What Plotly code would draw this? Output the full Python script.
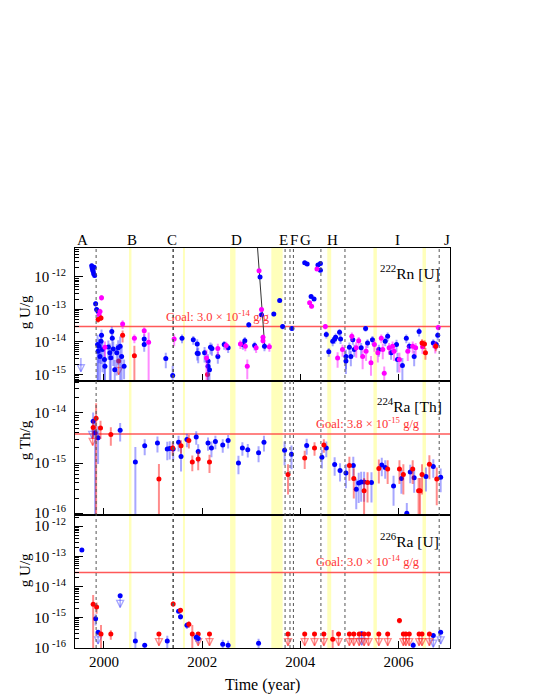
import plotly.graph_objects as go
from plotly.subplots import make_subplots

# ---- 222Rn [U] (top panel) ----
rn_blue_x = [1999.75, 1999.76, 1999.77, 1999.78, 1999.79, 1999.80, 1999.81, 1999.83, 1999.85, 1999.88,
             1999.87, 1999.88, 1999.90, 1999.92, 1999.94, 1999.95, 1999.97, 2000.01, 2000.02, 2000.09,
             2000.12, 2000.14, 2000.16, 2000.17, 2000.19, 2000.22, 2000.26, 2000.29, 2000.33, 2000.36,
             2000.41, 2000.82, 2000.82, 2001.26, 2001.40, 2001.59, 2001.82, 2001.90, 2001.90, 2001.92,
             2002.05, 2002.12, 2002.12, 2002.15, 2002.17, 2002.20, 2002.32, 2002.45, 2002.53, 2002.83,
             2002.87, 2002.95, 2003.07, 2003.18, 2003.21, 2003.27, 2003.46, 2003.58, 2003.64, 2003.83,
             2004.09, 2004.14, 2004.36, 2004.22, 2004.28, 2004.41, 2004.41, 2004.53, 2004.58, 2004.66,
             2004.70, 2004.72, 2004.80, 2004.82, 2004.93, 2004.93, 2005.00, 2005.03, 2005.07, 2005.10,
             2005.24, 2005.33, 2005.37, 2005.47, 2005.60, 2005.73, 2005.78, 2005.85, 2005.96, 2005.98,
             2006.08, 2006.16, 2006.22, 2006.32, 2006.42, 2006.71, 2006.77, 2006.80]
rn_blue_y = [2.2e-12, 1.9e-12, 1.65e-12, 1.5e-12, 1.25e-12, 2.0e-12, 1.1e-12, 1.5e-13, 1.0e-13, 8.7e-14,
             8.3e-15, 5.2e-15, 7.4e-15, 3.6e-15, 1.05e-14, 1.6e-14, 5.9e-15, 2.9e-15, 1.8e-15, 7.0e-15,
             4.7e-15, 3.3e-15, 2.1e-14, 1.3e-14, 6.1e-15, 1.4e-15, 4.7e-15, 6.6e-15, 7.4e-15, 3.6e-15,
             1.8e-15, 1.23e-14, 8.3e-15, 3.1e-15, 9.3e-16, 1.3e-14, 1.17e-14, 4.5e-15, 8.7e-15, 4.4e-15,
             4.7e-15, 2.6e-15, 1.8e-15, 1.4e-15, 6.9e-15, 6.3e-15, 3.6e-15, 8.3e-15, 6.6e-15, 8.3e-15,
             1.1e-14, 3.4e-14, 7.8e-15, 1.0e-12, 6.9e-14, 7.4e-15, 7.2e-14, 1.9e-13, 3.0e-14, 2.6e-14,
             2.75e-12, 2.5e-12, 2.35e-12, 2.5e-13, 2.1e-13, 2.6e-12, 1.6e-12, 1.7e-14, 5.0e-15, 1.05e-14,
             1.23e-14, 1.4e-14, 2.0e-14, 1.23e-14, 3.6e-15, 2.6e-15, 6.9e-15, 3.6e-15, 1.17e-14, 5.9e-15,
             6.6e-15, 2.6e-14, 9.3e-15, 1.17e-14, 5.9e-15, 1.05e-14, 1.5e-14, 4.7e-15, 8.3e-15, 2.9e-15,
             1.9e-15, 1.3e-14, 7.4e-15, 3.6e-15, 2.1e-14, 9.3e-15, 8.3e-15, 1.6e-14]
rn_blue_err = [0.15, 0.15, 0.15, 0.15, 0.15, 0.15, 0.15, 0.2, 0.2, 0.2,
               1.0, 0.9, 0.7, 1.0, 0.8, 0.5, 0.8, 1.0, 1.0, 0.6,
               0.9, 1.0, 0.4, 0.5, 0.7, 1.0, 0.8, 0.7, 1.0, 1.0,
               0.6, 0.4, 0.4, 0.5, 1.0, 0.3, 0.3, 0.4, 0.4, 0.5,
               0.5, 0.6, 0.7, 1.0, 0.4, 0.4, 0.4, 0.3, 0.3, 0.3,
               0.3, 0.2, 0.3, 0.1, 0.15, 0.3, 0.15, 0.15, 0.2, 0.15,
               0.1, 0.1, 0.1, 0.1, 0.1, 0.1, 0.1, 0.25, 0.3, 0.3,
               0.3, 0.3, 0.25, 0.3, 0.6, 0.6, 0.4, 0.5, 0.3, 0.4,
               0.4, 0.2, 0.3, 0.3, 0.4, 0.3, 0.3, 0.4, 0.4, 0.6,
               0.7, 0.3, 0.3, 0.5, 0.3, 0.3, 0.3, 0.3]

rn_mag_x = [1999.95, 1999.92, 1999.90, 2000.02, 2000.38, 2000.62, 2000.82, 2000.91, 2001.43, 2002.09,
            2002.32, 2002.49, 2002.78, 2002.88, 2002.92, 2003.10, 2003.16, 2003.21, 2003.24, 2003.24,
            2003.37, 2004.19, 2004.23, 2004.34, 2004.51, 2004.76, 2004.86, 2005.05, 2005.14, 2005.19,
            2005.27, 2005.34, 2005.44, 2005.51, 2005.58, 2005.65, 2005.68, 2005.71, 2005.81, 2005.88,
            2005.91, 2006.02, 2006.19, 2006.29, 2006.35, 2006.49, 2006.75, 2006.81]
rn_mag_y = [2.3e-13, 8.7e-14, 6.9e-14, 6.9e-15, 3.6e-14, 1.3e-14, 2.2e-14, 9.8e-15, 1.23e-14, 3.2e-15,
            6.3e-15, 7.8e-15, 8.7e-15, 7.4e-15, 1.8e-15, 6.6e-15, 1.55e-12, 1.0e-13, 1.4e-14, 1.1e-14,
            7.1e-15, 1.6e-13, 1.25e-13, 1.75e-12, 3.0e-14, 3.2e-15, 5.9e-15, 1.5e-14, 6.6e-15, 1.1e-14,
            3.6e-15, 5.2e-15, 2.3e-15, 8.3e-15, 4.7e-15, 1.3e-14, 5.9e-15, 1.1e-15, 6.6e-15, 7.4e-15,
            5.2e-15, 2.9e-15, 5.2e-15, 7.4e-15, 6.6e-15, 7.1e-15, 7.4e-15, 2.8e-14]
rn_mag_err = [0.2, 0.2, 0.2, 0.5, 0.3, 0.3, 0.3, 1.0, 0.4, 0.8,
              0.4, 0.3, 0.3, 0.3, 0.6, 0.3, 0.1, 0.15, 0.2, 0.2,
              0.3, 0.15, 0.15, 0.1, 0.2, 0.5, 0.4, 0.3, 0.5, 0.3,
              0.6, 0.5, 0.6, 0.4, 0.5, 0.3, 0.5, 0.6, 0.4, 0.4,
              0.5, 0.6, 0.5, 0.4, 0.4, 0.4, 0.4, 0.2]

rn_red_x = [1999.88, 1999.94, 2000.38, 2000.62, 2006.48, 2006.53, 2006.55, 2006.76]
rn_red_y = [4.9e-14, 5.5e-14, 1.6e-14, 3.8e-15, 9.3e-15, 8.7e-15, 4.7e-15, 7.4e-15]
rn_red_err = [0.2, 0.2, 0.4, 1.0, 0.3, 0.3, 0.4, 0.3]

rn_blue_lim_x = [1999.53]
rn_blue_lim_y = [3.2e-15]
rn_red_lim_x = [2000.30, 2002.11]
rn_red_lim_y = [2.6e-15, 1.0e-15]

rn_decay_x = [2003.12, 2003.28]
rn_decay_y = [1.2e-11, 6.0e-15]

# ---- 224Ra [Th] (middle panel) ----
th_blue_x = [1999.78, 1999.82, 1999.88, 2000.33, 2000.64, 2000.83, 2001.09, 2001.29, 2001.34, 2001.41,
             2001.52, 2001.57, 2001.69, 2001.88, 2001.92, 2002.12, 2002.19, 2002.27, 2002.42, 2002.53,
             2002.74, 2002.82, 2002.93, 2003.15, 2003.26, 2003.68, 2003.82, 2004.13, 2004.44, 2004.53,
             2004.70, 2004.81, 2004.93, 2005.08, 2005.14, 2005.19, 2005.24, 2005.30, 2005.45, 2005.66,
             2005.73, 2005.90, 2006.06, 2006.17, 2006.24, 2006.32, 2006.56, 2006.71, 2006.86]
th_blue_y = [6.8e-15, 4.0e-15, 3.2e-15, 4.5e-15, 1.05e-15, 2.2e-15, 2.5e-15, 1.9e-15, 1.95e-15, 1.9e-15,
             2.6e-15, 1.35e-15, 2.95e-15, 3.3e-15, 1.7e-15, 2.5e-15, 2.0e-15, 2.7e-15, 2.3e-15, 2.8e-15,
             1.0e-15, 2.0e-15, 1.85e-15, 1.6e-15, 2.6e-15, 1.8e-15, 1.5e-15, 2.25e-15, 1.3e-15, 2.0e-15,
             9.3e-16, 7.1e-16, 6.3e-16, 8.9e-16, 3.0e-16, 4.0e-16, 4.2e-16, 4.2e-16, 4.1e-16, 9.1e-16,
             8.1e-16, 3.5e-16, 4.9e-16, 1.0e-16, 6.6e-16, 5.1e-16, 5.4e-16, 8.5e-16, 5.2e-16]
th_blue_err = [0.5, 1.0, 0.7, 0.4, 1.0, 0.35, 0.35, 0.4, 0.4, 0.4,
               0.35, 0.5, 0.3, 0.3, 0.4, 0.3, 0.35, 0.3, 0.3, 0.3,
               0.4, 0.3, 0.3, 0.35, 0.35, 0.5, 0.5, 0.35, 0.4, 0.35,
               0.4, 0.4, 0.5, 0.5, 0.6, 0.6, 0.6, 0.6, 0.6, 0.4,
               0.4, 0.6, 0.5, 0.6, 0.4, 0.5, 0.5, 0.4, 0.5]

th_red_x = [1999.78, 1999.84, 1999.93, 2000.14, 2001.12, 2001.40, 2001.57, 2001.73, 2001.80, 2001.92,
            2002.15, 2003.75, 2004.09, 2004.29, 2004.48, 2005.00, 2005.09, 2005.30, 2005.37, 2005.60,
            2005.78, 2006.02, 2006.10, 2006.29, 2006.41, 2006.44, 2006.48, 2006.63, 2006.78]
th_red_y = [5.1e-15, 7.8e-15, 5.0e-15, 3.7e-15, 4.8e-16, 2.0e-15, 2.2e-15, 2.8e-15, 1.05e-15, 1.2e-15,
            1.05e-15, 5.9e-16, 1.26e-15, 2.0e-15, 2.3e-15, 8.9e-16, 4.9e-16, 2.8e-16, 4.1e-16, 7.8e-16,
            7.6e-16, 7.6e-16, 5.9e-16, 7.6e-16, 2.8e-16, 2.8e-16, 5.9e-16, 9.5e-16, 4.8e-16]
th_red_err = [0.4, 1.0, 0.4, 0.4, 1.0, 0.3, 0.3, 0.3, 0.35, 0.4,
              0.4, 0.6, 0.4, 0.3, 0.3, 0.5, 0.6, 0.8, 0.6, 0.5,
              0.5, 0.5, 0.6, 0.5, 0.8, 0.8, 0.6, 0.5, 0.7]

th_blue_lim_x = [1999.76]
th_blue_lim_y = [5.5e-15]
th_red_lim_x = [1999.77]
th_red_lim_y = [4.0e-15]

# ---- 226Ra [U] (bottom panel) ----
ra_blue_x = [1999.55, 1999.83, 2000.64, 2001.29, 2001.52, 2001.56, 2001.69, 2001.88, 2001.92, 2002.42,
             2002.53, 2003.15, 2006.30]
ra_blue_y = [1.65e-13, 9.0e-16, 1.66e-16, 1.66e-16, 1.6e-15, 1.05e-15, 5.5e-16, 2.2e-16, 2.0e-16, 1.3e-16,
             1.2e-16, 1.4e-16, 1.2e-16]
ra_blue_err = [0.15, 0.4, 1.0, 0.5, 0.15, 0.2, 0.25, 0.3, 0.3, 0.4,
               0.4, 0.4, 0.3]

ra_red_x = [1999.78, 1999.85, 1999.94, 2000.14, 2001.41, 2001.56, 2001.73, 2001.80, 2004.66, 2006.02]
ra_red_y = [2.7e-15, 2.2e-15, 2.8e-16, 2.8e-16, 2.75e-15, 1.7e-15, 5.9e-16, 2.8e-16, 1.9e-16, 7.8e-16]
ra_red_err = [1.0, 0.4, 1.0, 0.35, 0.2, 0.2, 0.25, 1.0, 1.0, 0.2]

ra_blue_lim_x = [1999.88, 2000.33, 2000.83, 2005.25, 2006.71, 2006.86]
ra_blue_lim_y = [3.2e-16, 5.1e-15, 1.2e-16, 2.9e-16, 2.5e-16, 3.2e-16]
ra_red_lim_x = [2001.12, 2001.92, 2002.15, 2003.75, 2004.09, 2004.29, 2004.48, 2004.78, 2005.00, 2005.09,
                2005.20, 2005.30, 2005.39, 2005.60, 2005.78, 2006.10, 2006.15, 2006.22, 2006.42, 2006.48,
                2006.63]
ra_red_lim_y = [2.8e-16] * len(ra_red_lim_x)

# ---- goals, events ----
goals = [3.0e-14, 3.8e-15, 3.0e-14]
goal_text = ["Goal: 3.0 \u00d7 10<sup>-14</sup> g/g",
             "Goal: 3.8 \u00d7 10<sup>-15</sup> g/g",
             "Goal: 3.0 \u00d7 10<sup>-14</sup> g/g"]
panel_names = ["<sup>222</sup>Rn [U]", "<sup>224</sup>Ra [Th]", "<sup>226</sup>Ra [U]"]
y_titles = ["g U/g", "g Th/g", "g U/g"]

event_lines = [1999.84, 2001.41, 2003.69, 2003.79, 2003.86, 2004.42, 2004.91, 2006.83]
yellow_start = [2000.51, 2001.61, 2002.57, 2003.41, 2004.55, 2005.49, 2006.49]
yellow_end = [2000.56, 2001.65, 2002.68, 2003.64, 2004.63, 2005.56, 2006.56]
event_labels = ["A", "B", "C", "D", "E", "F", "G", "H", "I", "J"]
event_label_x = [1999.57, 2000.57, 2001.38, 2002.70, 2003.66, 2003.88, 2004.11, 2004.66, 2005.98, 2006.98]

x_range = [1999.41, 2007.05]
y_ranges = [[-15.21, -11.11], [-16.03, -13.37], [-16.01, -11.62]]
arrow_dec = [0.42, 0.25, 0.38]

FONT = "Liberation Serif, Times New Roman, serif"
BLUE, BLUE_E = "#0000ff", "rgba(60,60,255,0.45)"
MAG, MAG_E = "#ff00ff", "rgba(255,0,255,0.45)"
RED, RED_E = "#ff0000", "rgba(255,0,0,0.45)"

fig = make_subplots(rows=3, cols=1, shared_xaxes=True, vertical_spacing=0)


def add_points(row, xs, ys, rel, color, ecolor):
    fig.add_trace(go.Scatter(
        x=xs, y=ys, mode="markers",
        marker=dict(color=color, size=5),
        error_y=dict(type="data", array=[v * r for v, r in zip(ys, rel)],
                     color=ecolor, thickness=2, width=0),
        showlegend=False, hoverinfo="skip"), row=row, col=1)


def add_limits(row, xs, ys, color, ecolor, dot=True):
    d = arrow_dec[row - 1]
    heads = [v * 10 ** (-d) for v in ys]
    fig.add_trace(go.Scatter(
        x=xs, y=ys, mode="markers",
        marker=dict(color=color, size=5, opacity=1 if dot else 0),
        error_y=dict(type="data", symmetric=False, array=[0] * len(ys),
                     arrayminus=[v - h for v, h in zip(ys, heads)],
                     color=ecolor, thickness=1.5, width=0),
        showlegend=False, hoverinfo="skip"), row=row, col=1)
    fig.add_trace(go.Scatter(
        x=xs, y=heads, mode="markers",
        marker=dict(symbol="arrow-down-open", size=7, color=ecolor,
                    line=dict(color=ecolor, width=1.3)),
        showlegend=False, hoverinfo="skip"), row=row, col=1)


# goal lines
for i, g in enumerate(goals):
    fig.add_trace(go.Scatter(x=x_range, y=[g, g], mode="lines",
                             line=dict(color="rgba(255,60,60,0.85)", width=1.5),
                             showlegend=False, hoverinfo="skip"), row=i + 1, col=1)

# top panel
fig.add_trace(go.Scatter(x=rn_decay_x, y=rn_decay_y, mode="lines",
                         line=dict(color="#333333", width=1), showlegend=False,
                         hoverinfo="skip"), row=1, col=1)
add_limits(1, rn_blue_lim_x, rn_blue_lim_y, BLUE, BLUE_E, dot=False)
add_limits(1, rn_red_lim_x, rn_red_lim_y, RED, RED_E)
add_points(1, rn_blue_x, rn_blue_y, rn_blue_err, BLUE, BLUE_E)
add_points(1, rn_mag_x, rn_mag_y, rn_mag_err, MAG, MAG_E)
add_points(1, rn_red_x, rn_red_y, rn_red_err, RED, RED_E)

# middle panel
add_limits(2, th_blue_lim_x, th_blue_lim_y, BLUE, BLUE_E, dot=False)
add_limits(2, th_red_lim_x, th_red_lim_y, RED, RED_E, dot=False)
add_points(2, th_blue_x, th_blue_y, th_blue_err, BLUE, BLUE_E)
add_points(2, th_red_x, th_red_y, th_red_err, RED, RED_E)

# bottom panel
add_limits(3, ra_blue_lim_x, ra_blue_lim_y, BLUE, BLUE_E)
add_limits(3, ra_red_lim_x, ra_red_lim_y, RED, RED_E)
add_points(3, ra_blue_x, ra_blue_y, ra_blue_err, BLUE, BLUE_E)
add_points(3, ra_red_x, ra_red_y, ra_red_err, RED, RED_E)

# event markers
shapes = []
for x0, x1 in zip(yellow_start, yellow_end):
    shapes.append(dict(type="rect", xref="x", yref="paper", x0=x0, x1=x1, y0=0, y1=1,
                       fillcolor="rgba(255,255,60,0.35)", line=dict(width=0), layer="below"))
for i, xv in enumerate(event_lines):
    shapes.append(dict(type="line", xref="x", yref="paper", x0=xv, x1=xv, y0=0, y1=1,
                       line=dict(color="#555555", width=1.6 if i == 1 else 1, dash="dot")))
fig.update_layout(shapes=shapes)

ann = []
for lab, xv in zip(event_labels, event_label_x):
    ann.append(dict(x=xv, y=1.0, xref="x", yref="paper", text=lab, showarrow=False,
                    xanchor="center", yanchor="bottom", yshift=-2,
                    font=dict(size=15, color="black")))
label_y = [0.94, 0.6075, 0.27]
goal_pos = [(0.381, 0.83), (0.781, 0.5625), (0.781, 0.2175)]
ytitle_y = [0.84, 0.52, 0.195]
for i in range(3):
    ann.append(dict(x=0.893, y=label_y[i], xref="paper", yref="paper", text=panel_names[i],
                    xanchor="center", yanchor="middle",
                    showarrow=False, font=dict(size=15.5, color="black")))
    ann.append(dict(x=goal_pos[i][0], y=goal_pos[i][1], xref="paper", yref="paper",
                    xanchor="center", yanchor="middle",
                    text=goal_text[i], showarrow=False, font=dict(size=12.5, color="#ff3333")))
    ann.append(dict(x=-0.133, y=ytitle_y[i], xref="paper", yref="paper", text=y_titles[i],
                    xanchor="center", yanchor="middle",
                    textangle=-90, showarrow=False, font=dict(size=15, color="black")))
ann.append(dict(x=0.5, y=-0.0925, xref="paper", yref="paper", text="Time (year)",
                xanchor="center", yanchor="middle",
                showarrow=False, font=dict(size=16, color="black")))
fig.update_layout(annotations=ann)

for i in range(3):
    lo, hi = y_ranges[i]
    decs = list(range(int(lo) - 1, int(hi) + 1))
    fig.update_yaxes(
        type="log", range=[lo, hi], row=i + 1, col=1,
        tickvals=[10.0 ** e for e in decs],
        ticktext=["10<sup> %d</sup>" % e for e in decs],
        ticks="inside", ticklen=8, tickcolor="black", ticklabelstandoff=5,
        minor=dict(ticks="inside", ticklen=4, tickcolor="black",
                   tickvals=[m * 10.0 ** e for e in decs for m in range(2, 10)]),
        showline=True, linecolor="black", linewidth=1.2, mirror=True,
        showgrid=False, zeroline=False,
        tickfont=dict(size=15, color="black"))

fig.update_xaxes(range=x_range, tickvals=[2000, 2002, 2004, 2006], ticks="inside",
                 ticklen=7, tickcolor="black", showline=True, linecolor="black",
                 linewidth=1.2, mirror=True, showgrid=False, zeroline=False,
                 tickfont=dict(size=15, color="black"))
fig.update_xaxes(showticklabels=False, row=1, col=1)
fig.update_xaxes(showticklabels=False, row=2, col=1)

# page body adds an 8px offset, so margins are shifted to keep the plot in place
fig.update_layout(
    width=540, height=699,
    margin=dict(l=67, r=98, t=240, b=59),
    paper_bgcolor="white", plot_bgcolor="white",
    font=dict(family=FONT, color="black"),
    showlegend=False,
)

fig.write_html("out.html")
